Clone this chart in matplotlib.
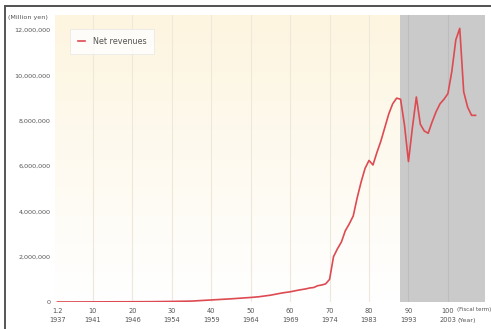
import numpy as np
import matplotlib.pyplot as plt
from matplotlib.colors import LinearSegmentedColormap
from matplotlib.lines import Line2D

# Fiscal terms and net revenues (million yen)
terms = [1, 5, 10, 15, 20, 25, 30, 35, 37, 40, 45, 50, 52, 55, 58, 60, 62, 64,
         65, 66, 67, 68, 69, 70, 71, 72, 73, 74, 75, 76, 77, 78, 79, 80, 81,
         82, 83, 84, 85, 86, 87, 88, 89, 90, 91, 92, 93, 94, 95, 96, 97, 98,
         99, 100, 101, 102, 103, 104, 105, 106, 107]
net_revenues = [300, 2000, 5000, 8000, 10000, 15000, 25000, 40000, 60000, 90000,
                140000, 200000, 230000, 300000, 400000, 450000, 520000, 580000,
                620000, 640000, 720000, 750000, 800000, 1000000, 2000000, 2350000,
                2650000, 3150000, 3450000, 3800000, 4600000, 5300000, 5900000,
                6250000, 6050000, 6600000, 7100000, 7700000, 8300000, 8750000,
                9000000, 8950000, 7800000, 6200000, 7700000, 9050000, 7850000,
                7550000, 7450000, 7950000, 8400000, 8750000, 8950000, 9200000,
                10190000, 11570000, 12080000, 9280000, 8600000, 8240000, 8240000]

tick_terms = [1, 10, 20, 30, 40, 50, 60, 70, 80, 90, 100]
tick_term_labels = ["1.2", "10", "20", "30", "40", "50", "60", "70", "80", "90", "100"]
tick_years = ["1937", "1941", "1946", "1954", "1959", "1964", "1969", "1974",
              "1983", "1993", "2003"]
y_ticks = [0, 2000000, 4000000, 6000000, 8000000, 10000000, 12000000]

x_min, x_max = 0.4, 109.4
y_max = 12670000
shade_start = 87.8

fig = plt.figure(figsize=(4.91, 3.29), dpi=100)
fig.patch.set_facecolor("white")
W, H = 491, 329
ax = fig.add_axes([55 / W, (H - 302) / H, (485 - 55) / W, (302 - 15) / H])

# cream gradient fading to white towards the bottom
cmap = LinearSegmentedColormap.from_list("cream", ["#ffffff", "#fefaf0", "#fdf5df"])
grad = np.linspace(0, 1, 256).reshape(-1, 1)
ax.imshow(grad, extent=[x_min, shade_start, 0, y_max], origin="lower",
          aspect="auto", cmap=cmap, zorder=0)
ax.axvspan(shade_start, x_max, color="#cacaca", zorder=1, lw=0)

for t in tick_terms[1:]:
    c = "#bdbdbd" if t > shade_start else "#eee8da"
    ax.axvline(t, color=c, lw=0.8, zorder=2)

ax.plot(terms, net_revenues, color="#de4a52", lw=1.2, zorder=4,
        solid_joinstyle="round", label="Net revenues")

ax.set_xlim(x_min, x_max)
ax.set_ylim(0, y_max)
for s in ax.spines.values():
    s.set_visible(False)

ax.set_xticks(tick_terms)
ax.set_xticklabels([f"{a}\n{b}" for a, b in zip(tick_term_labels, tick_years)],
                   fontsize=4.8, color="#555555", linespacing=1.75)
ax.set_yticks(y_ticks)
ax.set_yticklabels([f"{v:,}" for v in y_ticks], fontsize=4.6, color="#555555")
ax.tick_params(axis="y", length=0, pad=3)
ax.tick_params(axis="x", length=0, pad=4)

fig.text(457 / W, 1 - 310 / H, "(Fiscal term)", fontsize=4.0, color="#555555",
         ha="left", va="center")
fig.text(457 / W, 1 - 320.5 / H, "(Year)", fontsize=4.6, color="#555555",
         ha="left", va="center")
fig.text(8 / W, 1 - 17 / H, "(Million yen)", fontsize=4.6, color="#555555",
         ha="left", va="center")

leg = ax.legend(loc="upper left", bbox_to_anchor=(15 / 430, 1 - 14 / 287),
                fontsize=5.8, frameon=True, handlelength=0.9,
                borderpad=1.0, handletextpad=0.9, borderaxespad=0)
leg.get_frame().set_edgecolor("#e6e6e6")
leg.get_frame().set_linewidth(0.6)
leg.get_frame().set_boxstyle("square", pad=0)
for t in leg.get_texts():
    t.set_color("#555555")

# frame lines along the top and left edges
fig.add_artist(Line2D([4.5 / W, 1], [1 - 6 / H, 1 - 6 / H], transform=fig.transFigure,
                      color="#333333", lw=1.2))
fig.add_artist(Line2D([4.5 / W, 4.5 / W], [0, 1 - 6 / H], transform=fig.transFigure,
                      color="#555555", lw=1.4))

fig.savefig("out.png", dpi=100)
